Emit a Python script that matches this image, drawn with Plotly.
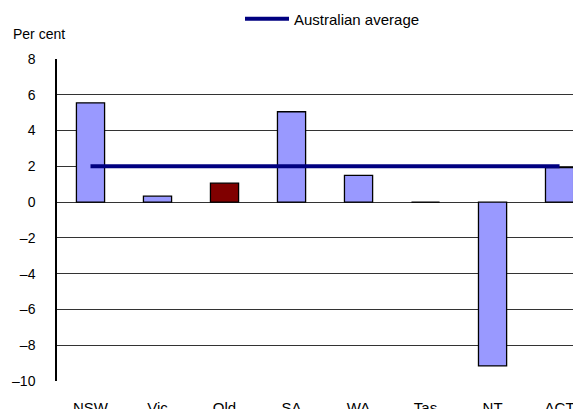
import plotly.graph_objects as go

states = ["NSW", "Vic", "Qld", "SA", "WA", "Tas", "NT", "ACT"]
growth = [5.55, 0.33, 1.06, 5.05, 1.5, 0.0, -9.16, 1.93]
australian_average = [2.0] * 8
bar_colors = ["#9999FF", "#9999FF", "#800000", "#9999FF", "#9999FF", "#9999FF", "#9999FF", "#9999FF"]
y_ticks = [-10, -8, -6, -4, -2, 0, 2, 4, 6, 8]
y_tick_text = ["\u201310", "\u20138", "\u20136", "\u20134", "\u20132", "0", "2", "4", "6", "8"]

font = "Liberation Sans, Arial, sans-serif"

fig = go.Figure()
fig.add_trace(go.Bar(
    x=states, y=growth, marker=dict(color=bar_colors, line=dict(color="black", width=1.3)),
    width=0.42, showlegend=False,
))
fig.add_trace(go.Scatter(
    x=states, y=australian_average, mode="lines", name="Australian average",
    line=dict(color="#000080", width=4),
))

# page has an 8px body margin; figure coordinates are page coordinates minus 8
OFF = 8
W, H = 581 - OFF, 409 - OFF
L, R, T, B = 57 - OFF, 0, 59 - OFF, 28
pw = W - L - R
ph = H - T - B

fig.update_layout(
    width=W, height=H,
    margin=dict(l=L, r=R, t=T, b=B, autoexpand=False),
    paper_bgcolor="white", plot_bgcolor="white",
    font=dict(family=font, size=14, color="black"),
    legend=dict(orientation="h", x=(240 - OFF - L) / pw, y=(H - B - (19 - OFF)) / ph,
                xanchor="left", yanchor="middle",
                font=dict(size=15), itemwidth=44, bgcolor="rgba(0,0,0,0)"),
    xaxis=dict(range=[-0.5, 7.32], showgrid=False, showline=False, ticks="",
               ticklabelstandoff=16, tickfont=dict(size=15)),
    yaxis=dict(range=[-10, 8], tickvals=y_ticks, ticktext=y_tick_text,
               showgrid=True, gridcolor="#333333", gridwidth=1,
               zeroline=True, zerolinecolor="#333333", zerolinewidth=1,
               showline=True, linecolor="black", linewidth=1.5,
               ticks="", ticklabelstandoff=17, tickfont=dict(size=14)),
    annotations=[dict(text="Per cent", x=(11 - OFF - L) / pw, y=(H - B - (34 - OFF)) / ph,
                      xref="paper", yref="paper",
                      showarrow=False, font=dict(size=14), xanchor="left", yanchor="middle")],
)

fig.write_html("out.html")
